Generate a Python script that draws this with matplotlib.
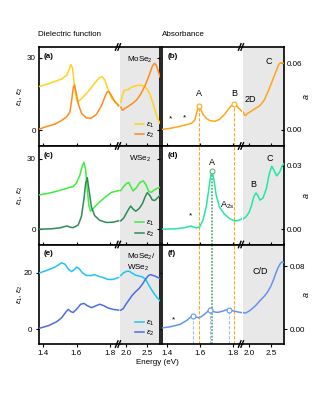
import matplotlib
matplotlib.use("Agg")
import matplotlib.pyplot as plt
from matplotlib.lines import Line2D

plt.rcParams['font.family'] = ['Liberation Sans', 'DejaVu Sans']
plt.rcParams['mathtext.fontset'] = 'custom'
plt.rcParams['mathtext.rm'] = 'Liberation Sans'
plt.rcParams['mathtext.it'] = 'Liberation Sans:italic'
plt.rcParams['font.size'] = 5.8

# ---- dielectric function data (energy in eV) ----
mose2_e1_elo = [1.37, 1.42, 1.47, 1.51, 1.54, 1.555, 1.565, 1.575, 1.585, 1.595, 1.605, 1.63, 1.67, 1.71, 1.74, 1.755, 1.77, 1.79, 1.81, 1.835, 1.855]
mose2_e1_lo = [18.0, 19.0, 20.2, 21.2, 22.8, 25.0, 27.2, 26.0, 20.0, 14.5, 11.8, 13.0, 16.0, 19.5, 21.8, 22.1, 21.0, 17.0, 13.5, 11.5, 10.5]
mose2_e2_elo = [1.37, 1.42, 1.47, 1.51, 1.54, 1.56, 1.57, 1.58, 1.588, 1.598, 1.61, 1.63, 1.66, 1.69, 1.72, 1.75, 1.77, 1.785, 1.795, 1.81, 1.83, 1.855]
mose2_e2_lo = [0.3, 1.5, 2.5, 4.0, 5.5, 7.5, 12.0, 17.5, 18.8, 15.5, 11.0, 7.0, 5.0, 5.0, 6.5, 10.0, 13.5, 15.8, 16.0, 14.5, 12.0, 10.0]
mose2_e1_ehi = [1.88, 1.92, 1.96, 2.05, 2.15, 2.25, 2.35, 2.42, 2.5, 2.56, 2.62, 2.68, 2.74, 2.8]
mose2_e1_hi = [11.5, 14.5, 16.5, 16.8, 18.0, 18.5, 18.6, 18.3, 17.0, 15.0, 12.0, 8.5, 5.0, 2.8]
mose2_e2_ehi = [1.88, 1.92, 1.96, 2.05, 2.15, 2.25, 2.35, 2.45, 2.55, 2.62, 2.67, 2.71, 2.76, 2.8]
mose2_e2_hi = [9.5, 8.2, 8.8, 9.8, 11.0, 12.5, 15.0, 18.5, 23.0, 26.5, 27.7, 27.0, 24.5, 22.0]

wse2_e1_elo = [1.37, 1.42, 1.47, 1.52, 1.56, 1.58, 1.6, 1.62, 1.635, 1.645, 1.655, 1.665, 1.675, 1.685, 1.70, 1.73, 1.77, 1.81, 1.855]
wse2_e1_lo = [14.6, 15.2, 16.0, 17.0, 17.9, 18.2, 19.8, 23.0, 27.0, 28.5, 25.5, 17.0, 10.0, 7.7, 8.8, 11.0, 13.5, 15.7, 16.5]
wse2_e2_elo = [1.37, 1.45, 1.5, 1.53, 1.545, 1.56, 1.58, 1.61, 1.63, 1.645, 1.655, 1.665, 1.675, 1.69, 1.71, 1.74, 1.78, 1.82, 1.855]
wse2_e2_lo = [0.0, 0.2, 0.6, 1.2, 1.4, 0.9, 0.7, 1.8, 5.5, 13.0, 19.5, 22.0, 17.0, 9.5, 5.8, 3.8, 2.9, 3.0, 3.6]
wse2_e1_ehi = [1.88, 1.95, 2.02, 2.07, 2.12, 2.17, 2.25, 2.33, 2.41, 2.47, 2.54, 2.60, 2.66, 2.74, 2.8]
wse2_e1_hi = [16.5, 18.3, 19.6, 19.9, 18.0, 16.3, 17.8, 20.0, 20.6, 19.0, 16.0, 15.8, 16.7, 17.5, 17.9]
wse2_e2_ehi = [1.88, 1.95, 2.03, 2.11, 2.17, 2.23, 2.31, 2.39, 2.45, 2.5, 2.56, 2.62, 2.68, 2.75, 2.8]
wse2_e2_hi = [3.6, 4.8, 7.5, 9.9, 8.6, 7.7, 8.8, 11.0, 13.8, 15.6, 14.5, 12.5, 12.3, 13.5, 14.6]

het_e1_elo = [1.37, 1.42, 1.47, 1.51, 1.53, 1.55, 1.57, 1.585, 1.60, 1.615, 1.635, 1.66, 1.69, 1.71, 1.73, 1.76, 1.79, 1.82, 1.855]
het_e1_lo = [19.8, 20.8, 22.0, 23.5, 23.0, 21.3, 20.4, 21.0, 22.0, 21.5, 20.0, 19.0, 19.0, 19.3, 18.8, 18.3, 17.6, 17.6, 18.3]
het_e2_elo = [1.37, 1.43, 1.48, 1.51, 1.535, 1.55, 1.565, 1.58, 1.60, 1.625, 1.645, 1.665, 1.69, 1.715, 1.74, 1.765, 1.79, 1.82, 1.855]
het_e2_lo = [0.2, 1.2, 2.6, 4.0, 6.0, 7.0, 6.2, 5.9, 7.0, 8.8, 9.1, 8.3, 7.6, 8.2, 8.8, 8.3, 7.5, 7.0, 6.7]
het_e1_ehi = [1.88, 1.95, 2.02, 2.08, 2.15, 2.23, 2.31, 2.39, 2.47, 2.54, 2.6, 2.66, 2.73, 2.8]
het_e1_hi = [19.0, 20.0, 20.5, 20.5, 19.8, 19.1, 18.8, 18.5, 17.5, 15.5, 14.0, 12.6, 11.2, 10.0]
het_e2_ehi = [1.88, 1.94, 2.0, 2.08, 2.15, 2.23, 2.31, 2.39, 2.47, 2.53, 2.58, 2.64, 2.70, 2.76, 2.8]
het_e2_hi = [6.7, 7.3, 8.8, 10.5, 12.0, 13.3, 14.4, 16.0, 17.9, 19.0, 19.3, 19.0, 18.7, 18.2, 17.9]

# ---- absorbance data ----
mose2_a_elo = [1.37, 1.42, 1.47, 1.52, 1.55, 1.57, 1.58, 1.593, 1.605, 1.62, 1.64, 1.66, 1.69, 1.72, 1.75, 1.77, 1.79, 1.81, 1.825, 1.84, 1.855]
mose2_a_lo = [0.0005, 0.0015, 0.003, 0.0048, 0.006, 0.009, 0.015, 0.0215, 0.019, 0.014, 0.0105, 0.0085, 0.0078, 0.0095, 0.014, 0.018, 0.0215, 0.023, 0.0215, 0.019, 0.017]
mose2_a_ehi = [1.87, 1.895, 1.92, 1.96, 2.05, 2.15, 2.25, 2.35, 2.45, 2.55, 2.62, 2.68, 2.72, 2.8]
mose2_a_hi = [0.016, 0.0135, 0.013, 0.0148, 0.017, 0.0195, 0.022, 0.027, 0.036, 0.046, 0.053, 0.059, 0.0605, 0.060]

wse2_a_elo = [1.37, 1.45, 1.5, 1.53, 1.545, 1.56, 1.58, 1.60, 1.62, 1.64, 1.655, 1.667, 1.675, 1.685, 1.70, 1.72, 1.75, 1.78, 1.81, 1.835, 1.855]
wse2_a_lo = [0.0001, 0.0003, 0.0007, 0.0013, 0.0016, 0.0012, 0.0007, 0.0012, 0.0045, 0.011, 0.019, 0.0255, 0.0275, 0.024, 0.016, 0.0105, 0.0072, 0.0052, 0.004, 0.0042, 0.005]
wse2_a_ehi = [1.87, 1.93, 2.0, 2.06, 2.11, 2.16, 2.2, 2.25, 2.32, 2.4, 2.46, 2.52, 2.58, 2.63, 2.7, 2.76, 2.8]
wse2_a_hi = [0.005, 0.006, 0.008, 0.0115, 0.0155, 0.0172, 0.016, 0.0138, 0.0148, 0.0195, 0.026, 0.0298, 0.0275, 0.0252, 0.027, 0.030, 0.031]

het_a_elo = [1.37, 1.42, 1.48, 1.52, 1.54, 1.556, 1.575, 1.593, 1.61, 1.635, 1.65, 1.665, 1.68, 1.70, 1.715, 1.74, 1.76, 1.776, 1.80, 1.83, 1.855]
het_a_lo = [0.0015, 0.003, 0.006, 0.011, 0.0145, 0.017, 0.0155, 0.0145, 0.016, 0.02, 0.023, 0.024, 0.0225, 0.0215, 0.0216, 0.023, 0.0245, 0.025, 0.0235, 0.022, 0.021]
het_a_ehi = [1.87, 1.92, 2.0, 2.07, 2.15, 2.26, 2.35, 2.42, 2.5, 2.56, 2.61, 2.66, 2.72, 2.76, 2.8]
het_a_hi = [0.021, 0.0205, 0.023, 0.026, 0.030, 0.037, 0.042, 0.047, 0.055, 0.063, 0.071, 0.078, 0.084, 0.086, 0.085]

# peak positions (energy, absorbance)
mose2_peaks_e = [1.593, 1.81]
mose2_peaks_a = [0.0215, 0.023]
wse2_peak_e = [1.675]
wse2_peak_a = [0.0275]
het_peaks_e = [1.556, 1.665, 1.776]
het_peaks_a = [0.017, 0.024, 0.025]

c_mo1, c_mo2 = '#ffd21f', '#ff8c1a'
c_w1, c_w2 = '#3cee3c', '#2e8b57'
c_h1, c_h2 = '#1ec4f5', '#4a6ee0'
c_amo, c_aw, c_ah = '#ffa51a', '#22e8a0', '#6495ed'
gray = '#e8e8e8'

W, H = 315, 394
fig = plt.figure(figsize=(W / 100, H / 100), dpi=100)


def box(x0, x1, y0, y1):
    return [x0 / W, 1 - y1 / H, (x1 - x0) / W, (y1 - y0) / H]


cols = [(38.5, 119.5, 160), (162, 242.5, 284)]
rows = [(47, 146), (146, 244.5), (244.5, 344)]
ylims = [[(-6.6, 34.5), (-0.0144, 0.0747)],
         [(-6.5, 35.5), (-0.0071, 0.0393)],
         [(-5.3, 30), (-0.019, 0.108)]]
yticks = [[[0, 30], [0, 0.06]], [[0, 30], [0, 0.03]], [[0, 20], [0, 0.08]]]
letters = [['(a)', '(b)'], ['(c)', '(d)'], ['(e)', '(f)']]

axes = {}
for r, (y0, y1) in enumerate(rows):
    for c, (xa, xb, xc) in enumerate(cols):
        lo = fig.add_axes(box(xa, xb, y0, y1))
        hi = fig.add_axes(box(xb, xc, y0, y1), sharey=lo)
        hi.set_facecolor(gray)
        lo.set_xlim(1.37, 1.86)
        hi.set_xlim(1.85, 2.8)
        lo.set_ylim(*ylims[r][c])
        lo.spines['right'].set_visible(False)
        hi.spines['left'].set_visible(False)
        for a in (lo, hi):
            for s in a.spines.values():
                s.set_linewidth(1.2)
            a.tick_params(length=2.5, width=0.8, pad=2, labelsize=5.8)
        lo.set_xticks([1.4, 1.6, 1.8])
        hi.set_xticks([2.0, 2.5])
        lo.set_yticks(yticks[r][c])
        if r < 2:
            lo.tick_params(labelbottom=False, direction='in')
            hi.tick_params(labelbottom=False, direction='in')
        if c == 0:
            lo.set_yticklabels([str(v) for v in yticks[r][c]])
            hi.tick_params(axis='y', left=False, labelleft=False, right=True)
            lo.set_ylabel(r'$\varepsilon_1$, $\varepsilon_2$', fontsize=5.8)
            lo.yaxis.set_label_coords(-0.165, 0.5)
        else:
            lo.tick_params(axis='y', left=False, labelleft=False)
            hi.tick_params(axis='y', left=False, labelleft=False, right=True, labelright=True)
            hi.set_yticklabels(['%.2f' % v for v in yticks[r][c]])
            hi.yaxis.set_label_position('right')
            hi.set_ylabel('$a$', fontsize=6.5)
            hi.yaxis.set_label_coords(1.43, 0.5)
        lo.annotate(letters[r][c], (0, 1), xycoords='axes fraction', xytext=(4, -4),
                    textcoords='offset points', ha='left', va='top', fontweight='bold')
        axes[(r, c)] = (lo, hi)


def pair(r, c, elo, vlo, ehi, vhi, color, lw=1.1):
    lo, hi = axes[(r, c)]
    lo.plot(elo, vlo, color=color, lw=lw, zorder=3)
    hi.plot(ehi, vhi, color=color, lw=lw, zorder=3)


# dielectric functions
pair(0, 0, mose2_e1_elo, mose2_e1_lo, mose2_e1_ehi, mose2_e1_hi, c_mo1)
pair(0, 0, mose2_e2_elo, mose2_e2_lo, mose2_e2_ehi, mose2_e2_hi, c_mo2)
pair(1, 0, wse2_e1_elo, wse2_e1_lo, wse2_e1_ehi, wse2_e1_hi, c_w1)
pair(1, 0, wse2_e2_elo, wse2_e2_lo, wse2_e2_ehi, wse2_e2_hi, c_w2)
pair(2, 0, het_e1_elo, het_e1_lo, het_e1_ehi, het_e1_hi, c_h1)
pair(2, 0, het_e2_elo, het_e2_lo, het_e2_ehi, het_e2_hi, c_h2)

names = ['MoSe$_2$', 'WSe$_2$', 'MoSe$_2$/\nWSe$_2$']
pal = [(c_mo1, c_mo2), (c_w1, c_w2), (c_h1, c_h2)]
for r in range(3):
    hi = axes[(r, 0)][1]
    if r < 2:
        hi.text(0.5, 0.92, names[r], transform=hi.transAxes, ha='center', va='top')
    else:
        hi.text(0.18, 0.93, names[r], transform=hi.transAxes, ha='left', va='top',
                linespacing=1.1)
    hnd = [Line2D([], [], color=pal[r][0], lw=1.1), Line2D([], [], color=pal[r][1], lw=1.1)]
    hi.legend(hnd, [r'$\varepsilon_1$', r'$\varepsilon_2$'], loc='lower right', frameon=False,
              handlelength=1.1, handletextpad=0.3, labelspacing=0.15, borderaxespad=0.3,
              fontsize=5.8)

# absorbance
pair(0, 1, mose2_a_elo, mose2_a_lo, mose2_a_ehi, mose2_a_hi, c_amo)
pair(1, 1, wse2_a_elo, wse2_a_lo, wse2_a_ehi, wse2_a_hi, c_aw)
pair(2, 1, het_a_elo, het_a_lo, het_a_ehi, het_a_hi, c_ah)

b_lo, b_hi = axes[(0, 1)]
d_lo, d_hi = axes[(1, 1)]
f_lo, f_hi = axes[(2, 1)]

# guide lines through the absorbance panels
for e, a in zip(mose2_peaks_e, mose2_peaks_a):
    b_lo.vlines(e, ylims[0][1][0], a, colors=c_amo, linestyles=(0, (3, 1.5)), lw=0.8, zorder=2)
    d_lo.axvline(e, color=c_amo, ls=(0, (3, 1.5)), lw=0.8, zorder=2)
    f_lo.axvline(e, color=c_amo, ls=(0, (3, 1.5)), lw=0.8, zorder=2)
for e, a in zip(wse2_peak_e, wse2_peak_a):
    d_lo.vlines(e, ylims[1][1][0], a, colors='#5fae80', linestyles=(0, (1, 0.8)), lw=1.3, zorder=2)
    f_lo.axvline(e, color='#5fae80', ls=(0, (1, 0.8)), lw=1.3, zorder=2)
for e, a in zip(het_peaks_e, het_peaks_a):
    f_lo.vlines(e, ylims[2][1][0], a, colors='#a8bdf2', linestyles=(0, (3, 1.5)), lw=0.8, zorder=2)

mk = dict(marker='o', ms=3.5, mfc='white', mew=0.8, ls='none', zorder=4)
b_lo.plot(mose2_peaks_e, mose2_peaks_a, mec=c_amo, **mk)
d_lo.plot(wse2_peak_e, wse2_peak_a, mec='#5fae80', **mk)
f_lo.plot(het_peaks_e, het_peaks_a, mec=c_ah, **mk)

# peak labels
b_lo.text(1.593, 0.033, 'A', ha='center', va='center', fontsize=6.5)
b_lo.text(1.81, 0.033, 'B', ha='center', va='center', fontsize=6.5)
b_hi.text(2.04, 0.027, '2D', ha='center', va='center', fontsize=6.5)
b_hi.text(2.44, 0.062, 'C', ha='center', va='center', fontsize=6.5)
b_lo.text(1.424, 0.0096, '*', ha='center', va='center', fontsize=6)
b_lo.text(1.51, 0.011, '*', ha='center', va='center', fontsize=6)
d_lo.text(1.674, 0.0316, 'A', ha='center', va='center', fontsize=6.5)
d_lo.text(1.765, 0.0118, 'A$_{2s}$', ha='center', va='center', fontsize=6.5)
d_hi.text(2.10, 0.0213, 'B', ha='center', va='center', fontsize=6.5)
d_hi.text(2.48, 0.0335, 'C', ha='center', va='center', fontsize=6.5)
d_lo.text(1.542, 0.0062, '*', ha='center', va='center', fontsize=6)
f_hi.text(2.25, 0.074, 'C/D', ha='center', va='center', fontsize=6.5)
f_lo.text(1.44, 0.0114, '*', ha='center', va='center', fontsize=6)

# break marks
for xb in (119.5, 242.5):
    for yb in (47, 146, 244.5, 344):
        for dx in (-2.8, -0.3):
            fig.add_artist(Line2D([(xb + dx - 1.3) / W, (xb + dx + 1.3) / W],
                                  [1 - (yb + 3.2) / H, 1 - (yb - 3.2) / H],
                                  color='black', lw=1.0, transform=fig.transFigure))

fig.text(38.5 / W, 1 - 34.5 / H, 'Dielectric function', ha='left', va='center')
fig.text(162 / W, 1 - 34.5 / H, 'Absorbance', ha='left', va='center')
fig.text(157 / W, 1 - 362 / H, 'Energy (eV)', ha='center', va='center')

fig.savefig('out.png', dpi=100)
